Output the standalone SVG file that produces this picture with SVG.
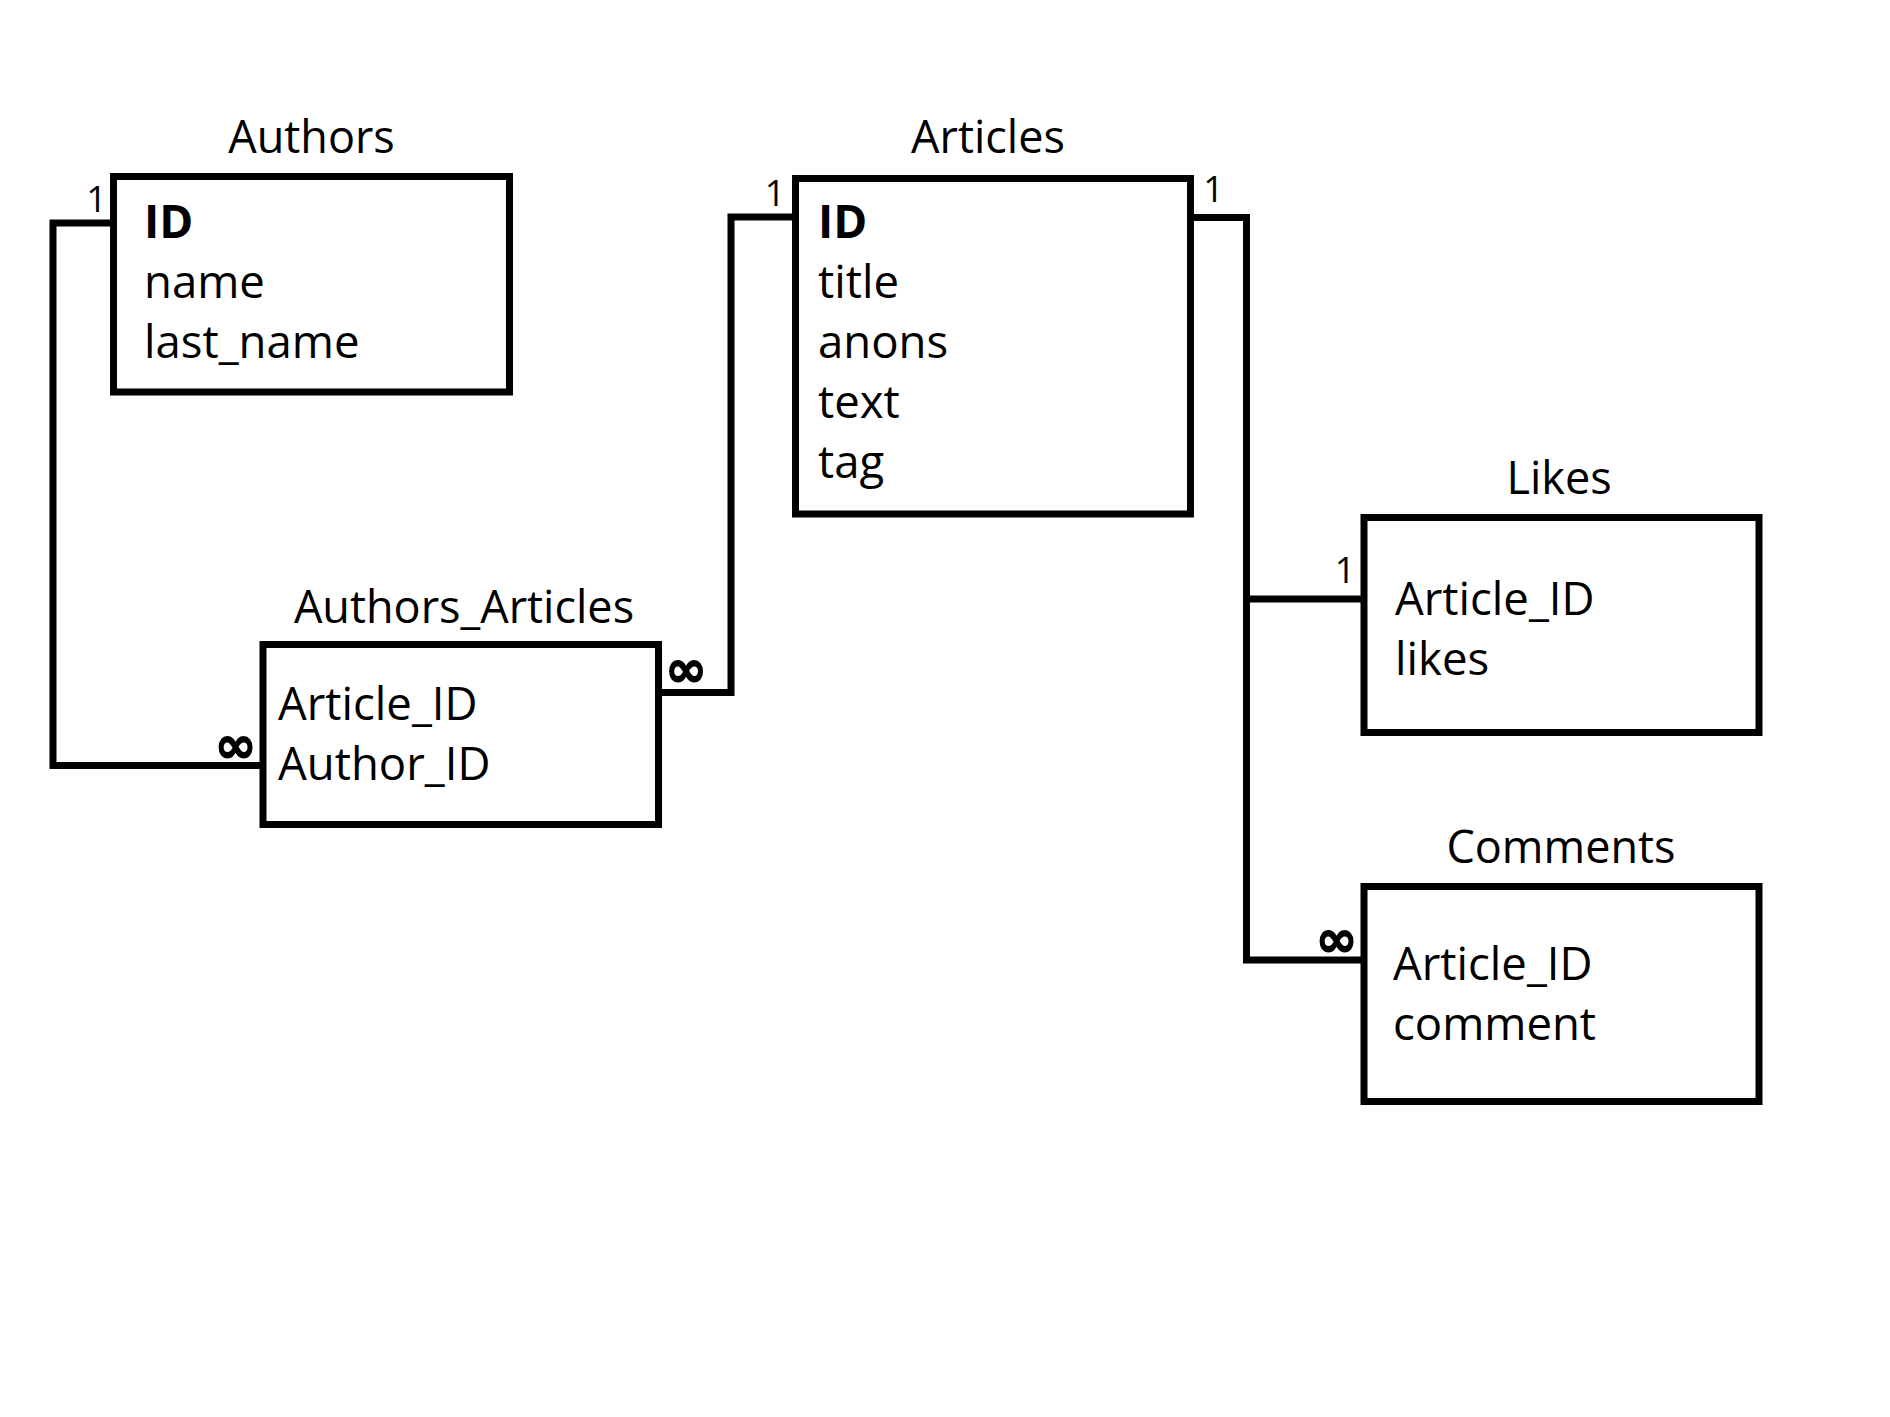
<svg xmlns="http://www.w3.org/2000/svg" width="1890" height="1417" viewBox="0 0 1890 1417">
<style>
.box{fill:none;stroke:#000;stroke-width:7}
.conn{fill:none;stroke:#000;stroke-width:7;stroke-linejoin:miter}
.title{font-family:"Open Sans","Noto Sans",sans-serif;font-size:45px;text-anchor:middle;fill:#000}
.field{font-family:"Open Sans","Noto Sans",sans-serif;font-size:45.5px;fill:#000}
.key{font-weight:bold;font-size:46px}
.one{font-family:"Open Sans","Noto Sans",sans-serif;font-size:36px;text-anchor:middle;fill:#000}
.many{font-family:"DejaVu Sans",sans-serif;font-weight:bold;font-style:italic;font-size:50px;text-anchor:middle;fill:#000;stroke:#000;stroke-width:1.5}
</style>
<rect width="1890" height="1417" fill="#fff"/>
<g id="connectors">
<path class="conn" d="M113.5,223 H53 V765.5 H263"/>
<path class="conn" d="M658.5,692.5 H731 V217 H795.5"/>
<path class="conn" d="M1190.5,217.5 H1246.5 V960 H1364"/>
<path class="conn" d="M1246.5,599 H1364"/>
<text class="one" x="96.5" y="212">1</text>
<text class="many" x="235.5" y="762">∞</text>
<text class="many" x="686" y="686">∞</text>
<text class="one" x="775" y="206">1</text>
<text class="one" x="1213.5" y="202">1</text>
<text class="one" x="1345" y="583">1</text>
<text class="many" x="1336.5" y="956">∞</text>
</g>
<g id="authors">
<text class="title" x="311.5" y="153">Authors</text>
<rect class="box" x="113.5" y="176.5" width="396" height="215.5"/>
<text class="field key" x="144" y="238">ID</text>
<text class="field" x="144" y="298">name</text>
<text class="field" x="144" y="358">last_name</text>
</g>
<g id="articles">
<text class="title" x="988" y="153">Articles</text>
<rect class="box" x="795.5" y="178.5" width="395" height="335.5"/>
<text class="field key" x="818" y="238">ID</text>
<text class="field" x="818" y="298">title</text>
<text class="field" x="818" y="358">anons</text>
<text class="field" x="818" y="418">text</text>
<text class="field" x="818" y="478">tag</text>
</g>
<g id="authors_articles">
<text class="title" x="464" y="623">Authors_Articles</text>
<rect class="box" x="263" y="644.5" width="395.5" height="180"/>
<text class="field" x="278" y="720">Article_ID</text>
<text class="field" x="278" y="780">Author_ID</text>
</g>
<g id="likes">
<text class="title" x="1559" y="494">Likes</text>
<rect class="box" x="1364" y="517.5" width="395" height="215"/>
<text class="field" x="1395" y="615">Article_ID</text>
<text class="field" x="1395" y="675">likes</text>
</g>
<g id="comments">
<text class="title" x="1561" y="863">Comments</text>
<rect class="box" x="1364" y="886.5" width="395" height="215"/>
<text class="field" x="1393" y="980">Article_ID</text>
<text class="field" x="1393" y="1040">comment</text>
</g>
</svg>
